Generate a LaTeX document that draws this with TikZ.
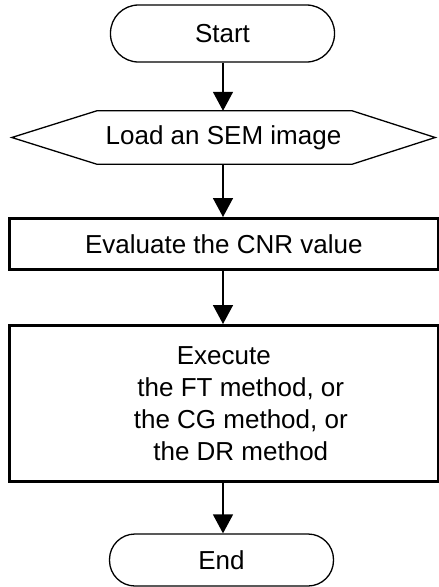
\documentclass[tikz,border=0pt]{standalone}
\usepackage{fontspec}
\setmainfont{Liberation Sans}
\usetikzlibrary{arrows.meta,calc}
\begin{document}
\begin{tikzpicture}[x=1pt,y=-1pt,
  every node/.style={font=\fontsize{26}{32}\selectfont, inner sep=0pt},
  term/.style={draw, line width=1.3pt, minimum width=224pt},
  proc/.style={draw, line width=3pt, minimum width=429pt},
  flow/.style={line width=1.5pt, -{Triangle[width=20pt,length=19pt]}}]
\useasboundingbox (0,0) rectangle (439,587);
\node[term, rounded corners=28pt, minimum height=57pt] (start) at (222.5,33.5) {Start};
\node[minimum width=423pt, minimum height=53pt] (load) at (223.5,137.5) {Load an SEM image};
\draw[line width=1.3pt] (load.west) -- ($(load.north west)+(85,0)$) -- ($(load.north east)+(-83,0)$) -- (load.east) -- ($(load.south east)+(-83,0)$) -- ($(load.south west)+(85,0)$) -- cycle;
\node[proc, minimum height=51pt] (eval) at (223.8,244) {Evaluate the CNR value};
\node[proc, minimum height=156pt, align=center] (exec) at (223.8,403.5) {Execute\\\hspace*{34pt}the FT method, or\\\hspace*{34pt}the CG method, or\\\hspace*{34pt}the DR method};
\node[term, rounded corners=25.5pt, minimum height=52pt] (end) at (221.5,560) {End};
\draw[flow] (start.south -| 223,0) -- (load.north -| 223,0);
\draw[flow] (load.south -| 223,0) -- (eval.north -| 223,0);
\draw[flow] (eval.south -| 223,0) -- (exec.north -| 223,0);
\draw[flow] (exec.south -| 223,0) -- (end.north -| 223,0);
\end{tikzpicture}
\end{document}
